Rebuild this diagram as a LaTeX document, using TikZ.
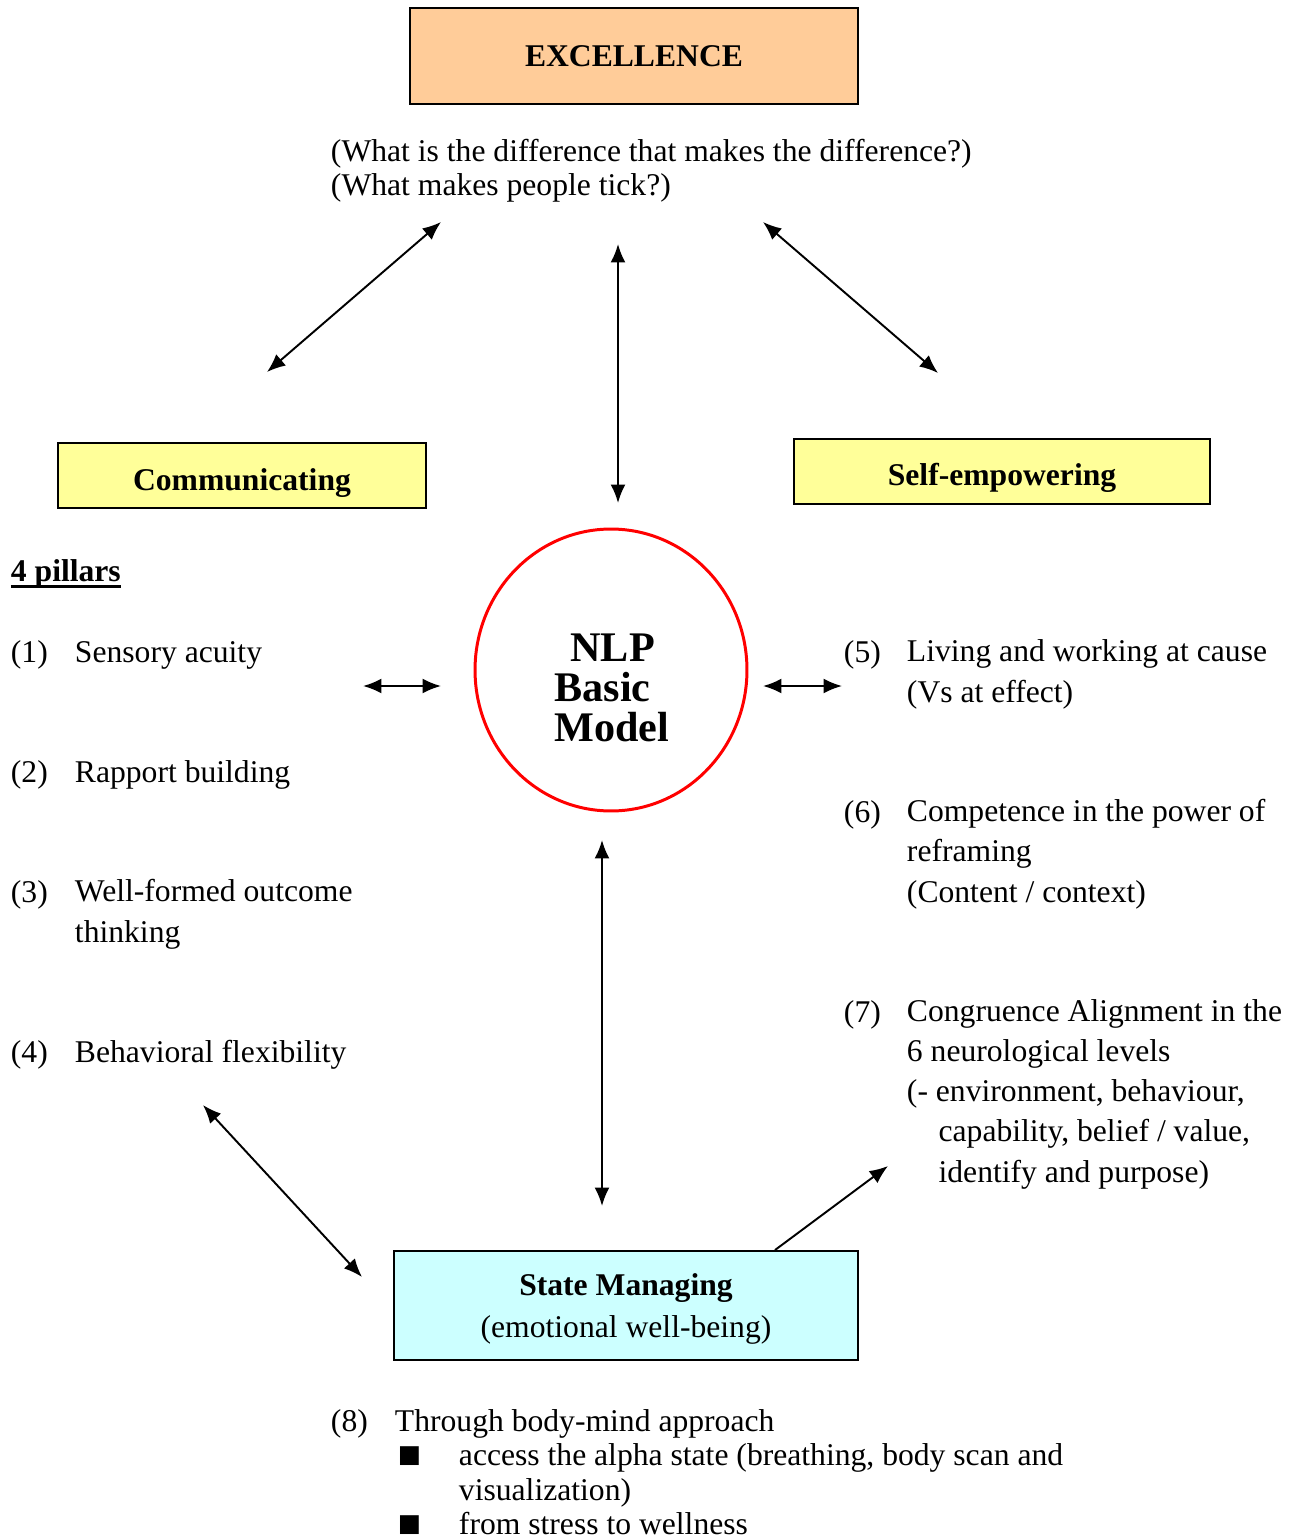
\documentclass[tikz,border=0pt]{standalone}
\usepackage{fontspec}
\setmainfont{Liberation Serif}
\newfontfamily\symfont{DejaVu Sans}
\usepackage{xcolor}
\usetikzlibrary{arrows.meta, shapes.geometric}
\definecolor{peach}{HTML}{FFCC99}
\definecolor{lemon}{HTML}{FFFF99}
\definecolor{aqua}{HTML}{CCFFFF}
\newcommand{\thickul}[1]{\setbox0\hbox{#1}\rlap{\rule[-4pt]{\wd0}{1.6pt}}\box0}

\begin{document}
\begin{tikzpicture}[x=0.02cm, y=-0.02cm, >={Latex[length=10.5pt, width=8.5pt]}, line width=1.1pt]
    \tikzstyle{box} = [draw, line width=1.1pt, text centered, align=center, font=\fontsize{18}{24}\selectfont\bfseries]
    \tikzstyle{txt} = [inner sep=0pt, align=left, anchor=base west, font=\fontsize{18}{22.8}\selectfont]
    \useasboundingbox (0,0) rectangle (1301,1540);
    % main boxes
    \node [box, fill=peach, minimum width=8.96cm, minimum height=1.92cm] (excel) at (634,56) {EXCELLENCE};
    \node [box, fill=lemon, minimum width=7.36cm, minimum height=1.3cm, text height=17pt, text depth=0pt] (comm) at (242,475.5) {Communicating};
    \node [box, fill=lemon, minimum width=8.32cm, minimum height=1.3cm, text height=16pt, text depth=0pt] (self) at (1002,471.5) {Self-empowering};
    \node [box, fill=aqua, minimum width=9.28cm, minimum height=2.18cm, text depth=0pt] (state) at (626,1305.5) {State Managing\\{\mdseries (emotional well-being)}};
    \node [ellipse, draw=red, line width=1.7pt, minimum width=5.44cm, minimum height=5.64cm] (nlp) at (611,670) {};
    \node [align=left, font=\fontsize{24}{22.8}\selectfont\bfseries] (nlptxt) at (612,688) {\hspace*{9pt}NLP\\Basic\\Model};
    \node [txt, font=\fontsize{18}{19.9}\selectfont] (question) at (330,196) {(What is the difference that makes the difference?)\\(What makes people tick?)};
    % left side
    \node [txt, font=\fontsize{18}{22}\selectfont\bfseries] (pillars) at (10,581) {\thickul{4 pillars}};
    \node [txt] (n1) at (10,662) {(1)};
    \node [txt] (p1) at (74,662) {Sensory acuity};
    \node [txt] (n2) at (10,782) {(2)};
    \node [txt] (p2) at (74,782) {Rapport building};
    \node [txt] (n3) at (10,902) {(3)};
    \node [txt] (p3) at (74,942) {Well-formed outcome\\thinking};
    \node [txt] (n4) at (10,1062) {(4)};
    \node [txt] (p4) at (74,1062) {Behavioral flexibility};
    % right side
    \node [txt] (n5) at (843,662) {(5)};
    \node [txt] (p5) at (906,702) {Living and working at cause\\(Vs at effect)};
    \node [txt] (n6) at (843,822) {(6)};
    \node [txt] (p6) at (906,902) {Competence in the power of\\reframing\\(Content / context)};
    \node [txt] (n7) at (843,1022) {(7)};
    \node [txt] (p7) at (906,1182) {Congruence Alignment in the\\6 neurological levels\\(- environment, behaviour,\\\hspace*{18pt}capability, belief / value,\\\hspace*{18pt}identify and purpose)};
    % bottom
    \node [txt] (n8) at (330,1431) {(8)};
    \node [txt] (p8) at (394,1431) {Through body-mind approach};
    \node [txt, font=\fontsize{14}{16}\symfont] (b1) at (397,1462) {■};
    \node [txt, font=\fontsize{18}{19.9}\selectfont] (q1) at (458,1500) {access the alpha state (breathing, body scan and\\visualization)};
    \node [txt, font=\fontsize{14}{16}\symfont] (b2) at (397,1531) {■};
    \node [txt] (q2) at (458,1534) {from stress to wellness};
    % arrow ends
    \coordinate (qL) at (441,222);
    \coordinate (commT) at (267,372);
    \coordinate (qM) at (618,244);
    \coordinate (nlpT) at (618,503);
    \coordinate (qR) at (763,222);
    \coordinate (selfT) at (938,373);
    \coordinate (pilL) at (363,686);
    \coordinate (nlpL) at (441,686);
    \coordinate (nlpR) at (763,686);
    \coordinate (pilR) at (842,686);
    \coordinate (nlpB) at (602,840);
    \coordinate (stateT) at (602,1206);
    \coordinate (p4B) at (203,1105);
    \coordinate (stateL) at (362,1277);
    \coordinate (p7B) at (888,1166);
    \draw[<->] (qL) -- (commT);
    \draw[<->] (qM) -- (nlpT);
    \draw[<->] (qR) -- (selfT);
    \draw[<->] (pilL) -- (nlpL);
    \draw[<->] (nlpR) -- (pilR);
    \draw[<->] (nlpB) -- (stateT);
    \draw[<->] (p4B) -- (stateL);
    \draw[->] ([xshift=2.98cm]state.north) -- (p7B);
\end{tikzpicture}
\end{document}
